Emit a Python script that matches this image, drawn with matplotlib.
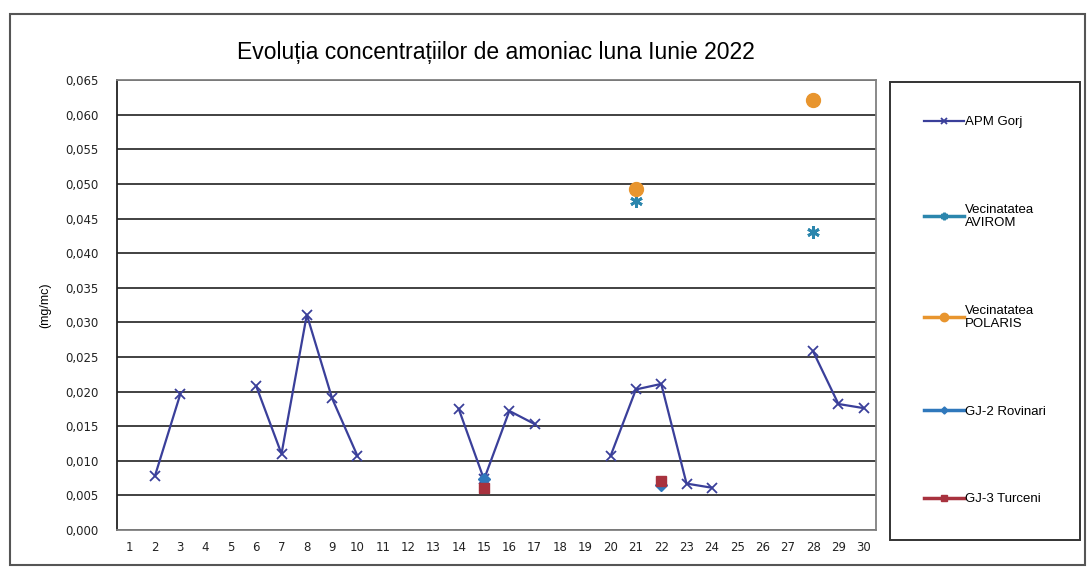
import numpy as np
import matplotlib
matplotlib.use('Agg')
import matplotlib.pyplot as plt
from matplotlib.ticker import FuncFormatter

plt.rcParams['font.family'] = ['Liberation Sans', 'DejaVu Sans']

nan = np.nan
days = list(range(1, 31))

# values in mg/mc, NaN = no measurement
apm_gorj = [nan, 0.0078, 0.0196, nan, nan, 0.0208, 0.0110, 0.0311, 0.0190, 0.0107,
            nan, nan, nan, 0.0175, 0.0073, 0.0172, 0.0153, nan, nan, 0.0107,
            0.0203, 0.0211, 0.0067, 0.0061, nan, nan, nan, 0.0258, 0.0182, 0.0176]
avirom = {21: 0.0475, 28: 0.0430}
polaris = {21: 0.0492, 28: 0.0621}
gj2_rovinari = {15: 0.0073, 22: 0.0065}
gj3_turceni = {15: 0.0060, 22: 0.0071}

def to_list(d):
    return [d.get(x, nan) for x in days]

fig = plt.figure(figsize=(10.88, 5.68), dpi=100)
ax = fig.add_axes([0.1075, 0.067, 0.698, 0.792])

ax.plot(days, apm_gorj, color='#3a3f9a', marker='x', markersize=7, lw=1.6,
        mew=1.3, label='APM Gorj', zorder=3)
ax.plot(days, to_list(avirom), color='#2b86ad', marker=(6, 2, 0), markersize=9,
        lw=2.5, mew=2, label='Vecinatatea\nAVIROM', zorder=3)
ax.plot(days, to_list(polaris), color='#e8952e', marker='o', markersize=10,
        lw=2.5, label='Vecinatatea\nPOLARIS', zorder=4)
ax.plot(days, to_list(gj2_rovinari), color='#2f78bc', marker='D', markersize=6,
        lw=2.5, label='GJ-2 Rovinari', zorder=3)
ax.plot(days, to_list(gj3_turceni), color='#a8323e', marker='s', markersize=7,
        lw=2.5, label='GJ-3 Turceni', zorder=3)

ax.set_xlim(0.5, 30.5)
ax.set_ylim(0, 0.065)
ax.set_xticks(days)
ax.set_yticks(np.arange(0, 0.0651, 0.005))
ax.yaxis.set_major_formatter(FuncFormatter(lambda v, p: ('%.3f' % v).replace('.', ',')))
ax.tick_params(axis='both', length=0)
ax.tick_params(axis='x', pad=8)
ax.tick_params(axis='y', pad=13)
for lab in ax.get_xticklabels() + ax.get_yticklabels():
    lab.set_fontfamily('DejaVu Sans')
    lab.set_fontsize(8.5)
    lab.set_color('#222222')
ax.grid(axis='y', color='#333333', lw=1.3)
ax.set_axisbelow(True)
for s in ax.spines.values():
    s.set_color('#808080')
    s.set_linewidth(1.3)
ax.spines['left'].set_color('#222222')
ax.set_ylabel('(mg/mc)', fontsize=9, labelpad=10)

fig.text(0.456, 0.907, 'Evoluția concentrațiilor de amoniac luna Iunie 2022',
         ha='center', va='center', fontsize=16.5)

leg = fig.legend(loc='upper left', bbox_to_anchor=(0.818, 0.856), fontsize=9.5,
                 handlelength=3.0, labelspacing=5.7, borderpad=2.6,
                 handletextpad=0.1, borderaxespad=0, fancybox=False,
                 edgecolor='black', markerscale=0.6)
leg.get_frame().set_linewidth(1.4)

# outer chart frame
fig.patches.append(plt.Rectangle((0.009, 0.006), 0.988, 0.97, transform=fig.transFigure,
                                 fill=False, edgecolor='#555555', lw=1.5))

fig.savefig('out.png', dpi=100)
